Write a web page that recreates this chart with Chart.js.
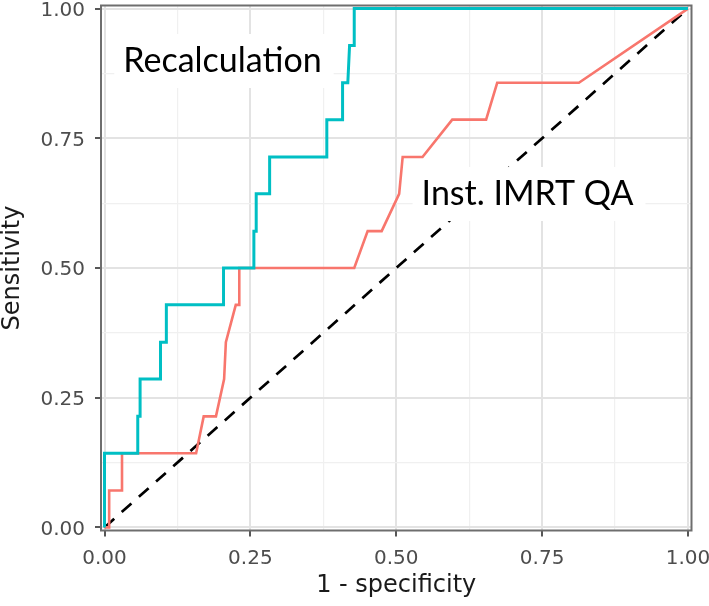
<!DOCTYPE html>
<html>
<head>
<meta charset="utf-8">
<title>ROC curves</title>
<script src="https://cdn.jsdelivr.net/npm/chart.js@4.4.1/dist/chart.umd.min.js"></script>
<style>
  html, body { margin: 0; padding: 0; background: #fff; }
  #roc { display: block; }
</style>
</head>
<body>
<canvas id="roc" width="709" height="606"></canvas>
<script>
// Recalculation (teal)
const recalcFpr = [0, 0, 0.057, 0.057, 0.061, 0.061, 0.096, 0.096, 0.106, 0.106, 0.204, 0.204, 0.256, 0.256, 0.260, 0.260, 0.283, 0.283, 0.381, 0.381, 0.408, 0.408, 0.417, 0.420, 0.428, 0.428, 1];
const recalcSens = [0, 0.143, 0.143, 0.214, 0.214, 0.286, 0.286, 0.357, 0.357, 0.429, 0.429, 0.5, 0.5, 0.571, 0.571, 0.643, 0.643, 0.714, 0.714, 0.786, 0.786, 0.857, 0.857, 0.929, 0.929, 1, 1];

// Inst. IMRT QA (red)
const instFpr = [0, 0.008, 0.008, 0.030, 0.030, 0.157, 0.170, 0.191, 0.205, 0.208, 0.225, 0.231, 0.231, 0.428, 0.451, 0.475, 0.505, 0.511, 0.545, 0.596, 0.654, 0.673, 0.813, 1];
const instSens = [0, 0, 0.071, 0.071, 0.143, 0.143, 0.214, 0.214, 0.286, 0.357, 0.429, 0.429, 0.5, 0.5, 0.571, 0.571, 0.643, 0.714, 0.714, 0.786, 0.786, 0.857, 0.857, 1];

// chance line
const chanceX = [0, 1];
const chanceY = [0, 1];

// axis ticks (major ones get a label, the others are minor grid lines)
const tickValues = [0, 0.125, 0.25, 0.375, 0.5, 0.625, 0.75, 0.875, 1];
const tickLabels = ["0.00", "", "0.25", "", "0.50", "", "0.75", "", "1.00"];

const toPoints = (xs, ys) => xs.map((x, i) => ({ x: x, y: ys[i] }));
const isMajor = ctx => ctx.tick && tickLabels[tickValues.indexOf(ctx.tick.value)] !== "";

// white boxes with text, drawn over the plot
const notesPlugin = {
  id: "notes",
  afterDatasetsDraw(chart, args, opts) {
    const c = chart.ctx;
    const xs = chart.scales.x, ys = chart.scales.y;
    c.save();
    c.font = opts.font;
    opts.items.forEach(n => {
      const cx = xs.getPixelForValue(n.x);
      const by = ys.getPixelForValue(n.y);
      const w = c.measureText(n.text).width;
      c.fillStyle = "#fff";
      c.fillRect(cx - w / 2 - 9, by - opts.capHeight - 14, w + 21, opts.capHeight + 30);
      c.fillStyle = "#000";
      c.textAlign = "center";
      c.textBaseline = "alphabetic";
      c.fillText(n.text, cx, by);
    });
    c.restore();
  }
};

// panel border
const borderPlugin = {
  id: "panelBorder",
  afterDraw(chart) {
    const a = chart.chartArea;
    const c = chart.ctx;
    c.save();
    c.strokeStyle = "#6e6e6e";
    c.lineWidth = 2;
    c.strokeRect(a.left, a.top, a.right - a.left, a.bottom - a.top);
    c.restore();
  }
};

function axisOptions(isX) {
  return {
    type: "linear",
    min: -0.006,
    max: 1.006,
    afterBuildTicks: s => { s.ticks = tickValues.map(v => ({ value: v })); },
    afterFit: s => {
      if (isX) s.height = 75.5; else s.width = 101;
      s.paddingLeft = 0; s.paddingRight = 0; s.paddingTop = 0; s.paddingBottom = 0;
    },
    border: { display: false },
    grid: {
      color: ctx => isMajor(ctx) ? "#e3e3e3" : "#f0f0f0",
      lineWidth: ctx => isMajor(ctx) ? 2 : 1.2,
      tickColor: ctx => isMajor(ctx) ? "#444" : "rgba(0,0,0,0)",
      tickWidth: 1.8,
      tickLength: 6
    },
    ticks: {
      autoSkip: false,
      maxRotation: 0,
      padding: 10,
      labelOffset: isX ? 0 : 2,
      color: "#4d4d4d",
      font: { family: "DejaVu Sans", size: 20 },
      callback: (v, i) => tickLabels[i]
    },
    title: {
      display: true,
      text: isX ? "1 - specificity" : "Sensitivity",
      color: "#1a1a1a",
      font: { family: "DejaVu Sans", size: 24, lineHeight: 1 },
      padding: isX ? { top: 0, bottom: 8 } : { top: 0.5, bottom: 0 }
    }
  };
}

new Chart(document.getElementById("roc"), {
  type: "line",
  data: {
    datasets: [
      {
        label: "Recalculation",
        data: toPoints(recalcFpr, recalcSens),
        borderColor: "#00BFC4",
        borderWidth: 3,
        pointRadius: 0,
        tension: 0,
        fill: false
      },
      {
        label: "Inst. IMRT QA",
        data: toPoints(instFpr, instSens),
        borderColor: "#F8766D",
        borderWidth: 2.6,
        pointRadius: 0,
        tension: 0,
        fill: false
      },
      {
        label: "chance",
        data: toPoints(chanceX, chanceY),
        borderColor: "#000",
        borderWidth: 2.7,
        borderDash: [13, 10],
        pointRadius: 0,
        fill: false
      }
    ]
  },
  options: {
    responsive: false,
    animation: false,
    events: [],
    layout: { padding: { top: 5.5, right: 17.5, left: 0, bottom: 0 } },
    scales: { x: axisOptions(true), y: axisOptions(false) },
    plugins: {
      legend: { display: false },
      tooltip: { enabled: false },
      notes: {
        font: "34px Lato",
        capHeight: 24,
        items: [
          { text: "Recalculation", x: 0.2022, y: 0.8778 },
          { text: "Inst. IMRT QA", x: 0.725, y: 0.6214 }
        ]
      }
    }
  },
  plugins: [notesPlugin, borderPlugin]
});
</script>
</body>
</html>
